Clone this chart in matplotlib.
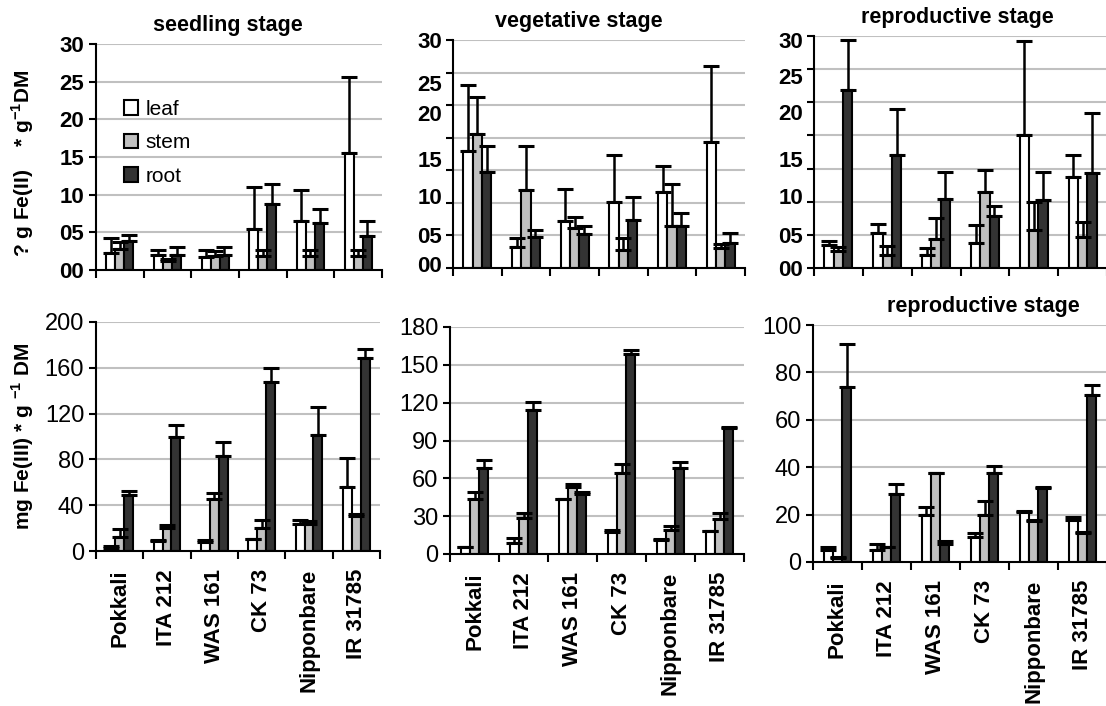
import numpy as np
import matplotlib
matplotlib.use('Agg')
import matplotlib.pyplot as plt
from matplotlib.patches import Patch
from matplotlib.ticker import FixedLocator

plt.rcParams['font.family'] = ['Liberation Sans', 'DejaVu Sans']
plt.rcParams['mathtext.fontset'] = 'custom'
plt.rcParams['mathtext.rm'] = 'Liberation Sans'
plt.rcParams['mathtext.bf'] = 'Liberation Sans:bold'

cultivars = ['Pokkali', 'ITA 212', 'WAS 161', 'CK 73', 'Nipponbare', 'IR 31785']
organs = ['leaf', 'stem', 'root']

# ---- Fe(II), seedling stage ----
fe2_seed_leaf = [2.3, 2.0, 1.7, 5.4, 6.5, 15.5]
fe2_seed_stem = [2.8, 1.2, 1.8, 1.8, 1.8, 1.8]
fe2_seed_root = [3.8, 2.0, 2.0, 8.8, 6.2, 4.5]
fe2_seed_leaf_err = [2.0, 0.7, 1.0, 5.6, 4.1, 10.1]
fe2_seed_stem_err = [0.9, 0.3, 0.7, 0.8, 0.9, 0.9]
fe2_seed_root_err = [0.9, 1.1, 1.1, 2.6, 1.9, 2.0]

# ---- Fe(II), vegetative stage ----
fe2_veg_leaf = [18.0, 3.2, 7.2, 10.2, 11.7, 19.3]
fe2_veg_stem = [20.5, 12.0, 6.2, 2.7, 6.4, 3.1]
fe2_veg_root = [14.8, 4.8, 5.2, 7.3, 6.5, 3.8]
fe2_veg_leaf_err = [10.1, 1.4, 5.0, 7.1, 3.9, 11.7]
fe2_veg_stem_err = [5.7, 6.7, 1.6, 1.9, 6.5, 0.6]
fe2_veg_root_err = [3.9, 1.0, 1.3, 3.6, 1.9, 1.5]

# ---- Fe(II), reproductive stage ----
fe2_rep_leaf = [3.5, 5.3, 2.0, 3.8, 20.1, 13.7]
fe2_rep_stem = [2.5, 2.0, 4.3, 11.4, 5.8, 4.7]
fe2_rep_root = [26.9, 17.1, 10.4, 7.8, 10.2, 14.4]
fe2_rep_leaf_err = [0.5, 1.4, 1.0, 2.7, 14.1, 3.3]
fe2_rep_stem_err = [0.7, 1.3, 3.3, 3.4, 4.2, 2.2]
fe2_rep_root_err = [7.5, 6.9, 4.1, 1.5, 4.3, 9.0]

# ---- Fe(III), seedling stage ----
fe3_seed_leaf = [3, 8.7, 7.9, 10.2, 23.9, 55.9]
fe3_seed_stem = [12, 20, 45.7, 20, 23.9, 31]
fe3_seed_root = [49, 99.6, 82.7, 147.6, 101, 168.6]
fe3_seed_leaf_err = [1, 0.6, 1.4, 0.6, 2.9, 25]
fe3_seed_stem_err = [7.5, 3, 4.9, 6.8, 2, 1.6]
fe3_seed_root_err = [3, 10.4, 12.3, 12.4, 24.8, 8.1]

# ---- Fe(III), vegetative stage ----
fe3_veg_leaf = [5.3, 8.4, 44, 17.7, 11.1, 18.5]
fe3_veg_stem = [44, 28.2, 52.8, 64.4, 19, 27.7]
fe3_veg_root = [67.8, 114, 47.5, 158.9, 67.8, 100.3]
fe3_veg_leaf_err = [0.5, 4, 0, 1.3, 0.5, 0]
fe3_veg_stem_err = [4.8, 4.5, 2.6, 6.9, 3.2, 4.5]
fe3_veg_root_err = [6.6, 6.6, 1.3, 2.6, 4.8, 0.5]

# ---- Fe(III), reproductive stage ----
fe3_rep_leaf = [4.9, 5.2, 19.7, 10.6, 21.1, 17.9]
fe3_rep_stem = [1.8, 6.3, 37.6, 20, 17.3, 12.4]
fe3_rep_root = [73.9, 28.9, 7.5, 37.6, 31.4, 70.4]
fe3_rep_leaf_err = [1.4, 2.5, 3.3, 1.8, 0.3, 1.1]
fe3_rep_stem_err = [0.3, 0.2, 0.1, 5.6, 0.6, 0.2]
fe3_rep_root_err = [18.1, 3.9, 1.4, 3.0, 0.3, 4.2]

# tick labels of the Fe(II) panels (as printed)
fe2_tick_labels = ['00', '05', '10', '15', '20', '25', '30']

colors = ['white', '#c0c0c0', '#333333']

fig = plt.figure(figsize=(11.06, 7.06), dpi=100)
W, H = 1106.0, 706.0


def make_ax(l, r, t, b):
    return fig.add_axes([l / W, 1 - b / H, (r - l) / W, (b - t) / H])


def draw(ax, vals, errs, ymax, grid_step, bottom=False):
    x = np.arange(len(cultivars))
    w = 0.19
    for i, (v, e) in enumerate(zip(vals, errs)):
        xo = x + (i - 1) * w
        ax.bar(xo, v, width=w, color=colors[i], edgecolor='black',
               linewidth=1.5, zorder=2, label=organs[i])
    for i, (v, e) in enumerate(zip(vals, errs)):
        xo = x + (i - 1) * w
        ax.errorbar(xo, v, yerr=[np.zeros(len(e)), e], fmt='none',
                    ecolor='black', elinewidth=1.8, capsize=5.5,
                    capthick=2.2, zorder=3)
    ax.set_xlim(-0.5, 5.5)
    ax.set_ylim(0, ymax)
    for g in np.arange(grid_step, ymax + 0.01, grid_step):
        ax.axhline(g, color='#c0c0c0', lw=1.5, zorder=0)
    for s in ['top', 'right']:
        ax.spines[s].set_visible(False)
    for s in ['left', 'bottom']:
        ax.spines[s].set_linewidth(1.5)
    ax.set_xticks(np.arange(-0.5, 5.6, 1))
    ax.set_xticklabels([])
    ax.tick_params(axis='x', which='major', length=6, width=1.5, direction='out')
    ax.tick_params(axis='y', which='major', length=5, width=1.5, direction='out')
    if bottom:
        ax.xaxis.set_minor_locator(FixedLocator(x))
        ax.set_xticklabels(cultivars, minor=True, rotation=90,
                           fontsize=16, fontweight='bold')
        ax.tick_params(axis='x', which='minor', length=0, pad=13)


def title(ax, txt, fx):
    ax.annotate(txt, xy=(fx, 1), xycoords='axes fraction', xytext=(0, 13),
                textcoords='offset points', ha='center', va='center',
                fontsize=15.5, fontweight='bold')


# ---------------- top row ----------------
ax1 = make_ax(96, 382, 44, 270)
draw(ax1, [fe2_seed_leaf, fe2_seed_stem, fe2_seed_root],
     [fe2_seed_leaf_err, fe2_seed_stem_err, fe2_seed_root_err], 30, 5)
ax1.set_yticks(np.arange(0, 31, 5))
ax1.set_yticklabels(fe2_tick_labels, fontsize=16, fontweight='bold')
title(ax1, 'seedling stage', 0.46)
ax1.set_ylabel(r'? g Fe(II)    * g$^{\mathbf{-1}}$DM', fontsize=15,
               fontweight='bold')
ax1.yaxis.set_label_coords(-0.21, 0.47)
handles = [Patch(facecolor=c, edgecolor='black', linewidth=1.5) for c in colors]
ax1.legend(handles, organs, loc='upper left', bbox_to_anchor=(0.06, 0.80),
           frameon=False, fontsize=15, handlelength=0.7, handleheight=0.7,
           handletextpad=0.35, labelspacing=0.7, borderpad=0)

ax2 = make_ax(453, 745, 40, 268)
draw(ax2, [fe2_veg_leaf, fe2_veg_stem, fe2_veg_root],
     [fe2_veg_leaf_err, fe2_veg_stem_err, fe2_veg_root_err], 35, 5)
ax2.yaxis.remove_overlapping_locs = False
ax2.set_yticks(np.arange(0, 36, 5))
ax2.set_yticklabels([])
ax2.yaxis.set_minor_locator(FixedLocator([0.6, 5.1, 11.0, 16.7, 23.8, 28.4, 35.0]))
ax2.set_yticklabels(fe2_tick_labels, minor=True, fontsize=16, fontweight='bold')
ax2.tick_params(axis='y', which='minor', length=0, pad=8)
title(ax2, 'vegetative stage', 0.43)

ax3 = make_ax(814, 1107, 36, 268)
draw(ax3, [fe2_rep_leaf, fe2_rep_stem, fe2_rep_root],
     [fe2_rep_leaf_err, fe2_rep_stem_err, fe2_rep_root_err], 35, 5)
ax3.yaxis.remove_overlapping_locs = False
ax3.set_yticks(np.arange(0, 36, 5))
ax3.set_yticklabels([])
ax3.yaxis.set_minor_locator(FixedLocator([0.0, 5.0, 10.8, 16.4, 23.6, 29.0, 34.4]))
ax3.set_yticklabels(fe2_tick_labels, minor=True, fontsize=16, fontweight='bold')
ax3.tick_params(axis='y', which='minor', length=0, pad=8)
title(ax3, 'reproductive stage', 0.49)

# ---------------- bottom row ----------------
ax4 = make_ax(96, 380, 322, 551)
draw(ax4, [fe3_seed_leaf, fe3_seed_stem, fe3_seed_root],
     [fe3_seed_leaf_err, fe3_seed_stem_err, fe3_seed_root_err], 200, 40,
     bottom=True)
ax4.set_yticks(np.arange(0, 201, 40))
ax4.tick_params(axis='y', labelsize=17)
ax4.set_ylabel(r'mg Fe(III) * g $^{\mathbf{-1}}$ DM', fontsize=15,
               fontweight='bold')
ax4.yaxis.set_label_coords(-0.21, 0.5)

ax5 = make_ax(450, 744, 327, 554)
draw(ax5, [fe3_veg_leaf, fe3_veg_stem, fe3_veg_root],
     [fe3_veg_leaf_err, fe3_veg_stem_err, fe3_veg_root_err], 180, 30,
     bottom=True)
ax5.set_yticks(np.arange(0, 181, 30))
ax5.tick_params(axis='y', labelsize=17)

ax6 = make_ax(813, 1107, 325, 562)
draw(ax6, [fe3_rep_leaf, fe3_rep_stem, fe3_rep_root],
     [fe3_rep_leaf_err, fe3_rep_stem_err, fe3_rep_root_err], 100, 20,
     bottom=True)
ax6.set_yticks(np.arange(0, 101, 20))
ax6.tick_params(axis='y', labelsize=17)
title(ax6, 'reproductive stage', 0.58)

fig.savefig('out.png', dpi=100)
